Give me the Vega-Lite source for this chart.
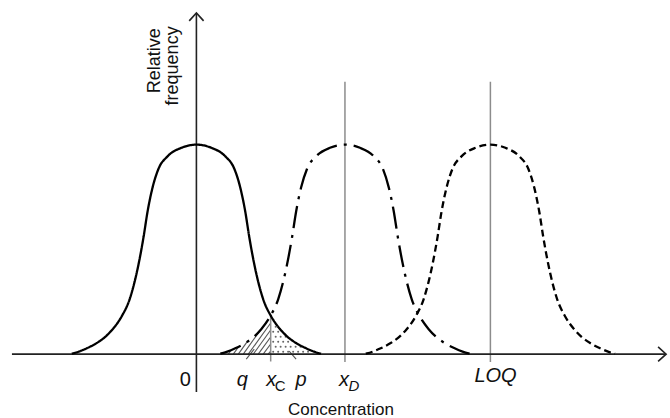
{
  "$schema": "https://vega.github.io/schema/vega-lite/v6.json",
  "width": 670,
  "height": 418,
  "autosize": {"type": "fit", "contains": "padding"},
  "padding": 0,
  "background": "white",
  "config": {"view": {"stroke": null}, "text": {"font": "Liberation Sans"}},
  "datasets": {
    "curves": [
      {"c":"blank","x":-3.213,"y":0.002},{"c":"blank","x":-3.033,"y":0.012},{"c":"blank","x":-2.828,"y":0.028},{"c":"blank","x":-2.571,"y":0.053},{"c":"blank","x":-2.365,"y":0.08},{"c":"blank","x":-2.159,"y":0.119},{"c":"blank","x":-1.928,"y":0.18},{"c":"blank","x":-1.722,"y":0.262},{"c":"blank","x":-1.594,"y":0.345},{"c":"blank","x":-1.491,"y":0.43},{"c":"blank","x":-1.362,"y":0.56},{"c":"blank","x":-1.26,"y":0.68},{"c":"blank","x":-1.131,"y":0.795},{"c":"blank","x":-0.977,"y":0.885},{"c":"blank","x":-0.746,"y":0.944},{"c":"blank","x":-0.386,"y":0.985},{"c":"blank","x":0,"y":1},{"c":"blank","x":0.386,"y":0.985},{"c":"blank","x":0.746,"y":0.944},{"c":"blank","x":0.977,"y":0.885},{"c":"blank","x":1.131,"y":0.795},{"c":"blank","x":1.26,"y":0.68},{"c":"blank","x":1.362,"y":0.56},{"c":"blank","x":1.491,"y":0.43},{"c":"blank","x":1.594,"y":0.345},{"c":"blank","x":1.722,"y":0.262},{"c":"blank","x":1.928,"y":0.18},{"c":"blank","x":2.159,"y":0.119},{"c":"blank","x":2.365,"y":0.08},{"c":"blank","x":2.571,"y":0.053},{"c":"blank","x":2.828,"y":0.028},{"c":"blank","x":3.033,"y":0.012},{"c":"blank","x":3.213,"y":0.002},
      {"c":"detect","x":0.617,"y":0.002},{"c":"detect","x":0.797,"y":0.012},{"c":"detect","x":1.002,"y":0.028},{"c":"detect","x":1.259,"y":0.053},{"c":"detect","x":1.465,"y":0.08},{"c":"detect","x":1.671,"y":0.119},{"c":"detect","x":1.902,"y":0.18},{"c":"detect","x":2.108,"y":0.262},{"c":"detect","x":2.236,"y":0.345},{"c":"detect","x":2.339,"y":0.43},{"c":"detect","x":2.468,"y":0.56},{"c":"detect","x":2.57,"y":0.68},{"c":"detect","x":2.699,"y":0.795},{"c":"detect","x":2.853,"y":0.885},{"c":"detect","x":3.084,"y":0.944},{"c":"detect","x":3.444,"y":0.985},{"c":"detect","x":3.83,"y":1},{"c":"detect","x":4.216,"y":0.985},{"c":"detect","x":4.576,"y":0.944},{"c":"detect","x":4.807,"y":0.885},{"c":"detect","x":4.961,"y":0.795},{"c":"detect","x":5.09,"y":0.68},{"c":"detect","x":5.192,"y":0.56},{"c":"detect","x":5.321,"y":0.43},{"c":"detect","x":5.424,"y":0.345},{"c":"detect","x":5.552,"y":0.262},{"c":"detect","x":5.758,"y":0.18},{"c":"detect","x":5.989,"y":0.119},{"c":"detect","x":6.195,"y":0.08},{"c":"detect","x":6.401,"y":0.053},{"c":"detect","x":6.658,"y":0.028},{"c":"detect","x":6.863,"y":0.012},{"c":"detect","x":7.043,"y":0.002},
      {"c":"quant","x":4.367,"y":0.002},{"c":"quant","x":4.547,"y":0.012},{"c":"quant","x":4.752,"y":0.028},{"c":"quant","x":5.009,"y":0.053},{"c":"quant","x":5.215,"y":0.08},{"c":"quant","x":5.421,"y":0.119},{"c":"quant","x":5.652,"y":0.18},{"c":"quant","x":5.858,"y":0.262},{"c":"quant","x":5.986,"y":0.345},{"c":"quant","x":6.089,"y":0.43},{"c":"quant","x":6.218,"y":0.56},{"c":"quant","x":6.32,"y":0.68},{"c":"quant","x":6.449,"y":0.795},{"c":"quant","x":6.603,"y":0.885},{"c":"quant","x":6.834,"y":0.944},{"c":"quant","x":7.194,"y":0.985},{"c":"quant","x":7.58,"y":1},{"c":"quant","x":7.966,"y":0.985},{"c":"quant","x":8.326,"y":0.944},{"c":"quant","x":8.557,"y":0.885},{"c":"quant","x":8.711,"y":0.795},{"c":"quant","x":8.84,"y":0.68},{"c":"quant","x":8.942,"y":0.56},{"c":"quant","x":9.071,"y":0.43},{"c":"quant","x":9.174,"y":0.345},{"c":"quant","x":9.302,"y":0.262},{"c":"quant","x":9.508,"y":0.18},{"c":"quant","x":9.739,"y":0.119},{"c":"quant","x":9.945,"y":0.08},{"c":"quant","x":10.151,"y":0.053},{"c":"quant","x":10.408,"y":0.028},{"c":"quant","x":10.613,"y":0.012},{"c":"quant","x":10.793,"y":0.002}
    ],
    "hatch": [
      {"x":0.823,"y":0,"x2":0.9,"y2":0.02},
      {"x":0.951,"y":0,"x2":1.098,"y2":0.0376},
      {"x":1.080,"y":0,"x2":1.311,"y2":0.0595},
      {"x":1.208,"y":0,"x2":1.645,"y2":0.1143},
      {"x":1.337,"y":0,"x2":1.915,"y2":0.1486},
      {"x":1.465,"y":0,"x2":1.915,"y2":0.1152},
      {"x":1.594,"y":0,"x2":1.915,"y2":0.0819},
      {"x":1.722,"y":0,"x2":1.915,"y2":0.0486},
      {"x":1.851,"y":0,"x2":1.915,"y2":0.0152},
      {"x":1.285,"y":-0.0238,"x2":1.491,"y2":0.0238},
      {"x":2.571,"y":-0.0238,"x2":2.391,"y2":0.0143}
    ],
    "dots": [
      {"x":1.979,"y":0.0119},{"x":2.108,"y":0.0119},{"x":2.237,"y":0.0119},{"x":2.365,"y":0.0119},{"x":2.494,"y":0.0119},{"x":2.622,"y":0.0119},{"x":2.751,"y":0.0119},{"x":2.879,"y":0.0119},
      {"x":2.044,"y":0.0357},{"x":2.172,"y":0.0357},{"x":2.301,"y":0.0357},{"x":2.429,"y":0.0357},{"x":2.558,"y":0.0357},{"x":2.686,"y":0.0357},
      {"x":1.979,"y":0.0595},{"x":2.108,"y":0.0595},{"x":2.237,"y":0.0595},{"x":2.365,"y":0.0595},
      {"x":2.044,"y":0.0833},{"x":2.172,"y":0.0833},{"x":2.301,"y":0.0833},
      {"x":1.979,"y":0.107},{"x":2.108,"y":0.107},
      {"x":2.044,"y":0.131}
    ],
    "vlines": [
      {"x":3.83,"y":1.3,"y2":-0.038},
      {"x":7.58,"y":1.3,"y2":-0.038},
      {"x":1.915,"y":0.183,"y2":-0.035}
    ],
    "axes": [
      {"x":-4.756,"y":0,"x2":12.11,"y2":0},
      {"x":0,"y":1.629,"x2":0,"y2":-0.181}
    ],
    "xarrow": [{"x":12.11,"y":0}],
    "yarrow": [{"x":0,"y":1.629}],
    "labItalic": [
      {"t":"q","x":1.183,"y":-0.152},
      {"t":"x","x":1.928,"y":-0.152},
      {"t":"p","x":2.699,"y":-0.152},
      {"t":"x","x":3.805,"y":-0.152},
      {"t":"LOQ","x":7.712,"y":-0.133}
    ],
    "labNormal": [{"t":"0","x":-0.283,"y":-0.152}],
    "subNormal": [{"t":"C","x":2.159,"y":-0.176}],
    "subItalic": [{"t":"D","x":4.062,"y":-0.176}],
    "xtitle": [{"t":"Concentration","x":3.728,"y":-0.29}],
    "ytitle": [
      {"t":"Relative","x":-0.951,"y":1.4},
      {"t":"frequency","x":-0.463,"y":1.376}
    ]
  },
  "encoding": {
    "x": {"field":"x","type":"quantitative","scale":{"domain":[-5.064,12.159],"nice":false,"zero":false},"axis":null},
    "y": {"field":"y","type":"quantitative","scale":{"domain":[-0.3,1.6905],"nice":false,"zero":false},"axis":null}
  },
  "layer": [
    {
      "data": {"name":"hatch"},
      "mark": {"type":"rule","color":"#555555","strokeWidth":1.1},
      "encoding": {"x2":{"field":"x2"},"y2":{"field":"y2"}}
    },
    {
      "data": {"name":"dots"},
      "mark": {"type":"circle","color":"#666666","size":4,"opacity":1},
      "encoding": {}
    },
    {
      "data": {"name":"vlines"},
      "mark": {"type":"rule","color":"#8c8c8c","strokeWidth":1.5},
      "encoding": {"y2":{"field":"y2"}}
    },
    {
      "data": {"name":"axes"},
      "mark": {"type":"rule","color":"#222222","strokeWidth":1.6},
      "encoding": {"x2":{"field":"x2"},"y2":{"field":"y2"}}
    },
    {
      "data": {"name":"curves"},
      "mark": {"type":"line","color":"#000000","strokeWidth":2.3,"interpolate":"monotone"},
      "encoding": {
        "strokeDash": {"field":"c","type":"nominal","scale":{"domain":["blank","detect","quant"],"range":[[1,0],[22,7,3,7],[7,4]]},"legend":null}
      }
    },
    {
      "data": {"name":"xarrow"},
      "mark": {"type":"point","shape":"M-1,-0.9L0,0L-1,0.9","filled":false,"stroke":"#222222","strokeWidth":1.6,"size":256,"opacity":1},
      "encoding": {}
    },
    {
      "data": {"name":"yarrow"},
      "mark": {"type":"point","shape":"M-0.9,1L0,0L0.9,1","filled":false,"stroke":"#222222","strokeWidth":1.6,"size":256,"opacity":1},
      "encoding": {}
    },
    {
      "data": {"name":"labItalic"},
      "mark": {"type":"text","fontSize":20,"fontStyle":"italic","align":"center","baseline":"alphabetic","color":"#111111","font":"Liberation Sans"},
      "encoding": {"text":{"field":"t"}}
    },
    {
      "data": {"name":"labNormal"},
      "mark": {"type":"text","fontSize":20,"align":"center","baseline":"alphabetic","color":"#111111","font":"Liberation Sans"},
      "encoding": {"text":{"field":"t"}}
    },
    {
      "data": {"name":"subNormal"},
      "mark": {"type":"text","fontSize":15,"align":"center","baseline":"alphabetic","color":"#111111","font":"Liberation Sans"},
      "encoding": {"text":{"field":"t"}}
    },
    {
      "data": {"name":"subItalic"},
      "mark": {"type":"text","fontSize":15,"fontStyle":"italic","align":"center","baseline":"alphabetic","color":"#111111","font":"Liberation Sans"},
      "encoding": {"text":{"field":"t"}}
    },
    {
      "data": {"name":"xtitle"},
      "mark": {"type":"text","fontSize":17,"align":"center","baseline":"alphabetic","color":"#111111","font":"Liberation Sans"},
      "encoding": {"text":{"field":"t"}}
    },
    {
      "data": {"name":"ytitle"},
      "mark": {"type":"text","fontSize":18,"angle":270,"align":"center","baseline":"alphabetic","color":"#111111","font":"Liberation Sans"},
      "encoding": {"text":{"field":"t"}}
    }
  ]
}
